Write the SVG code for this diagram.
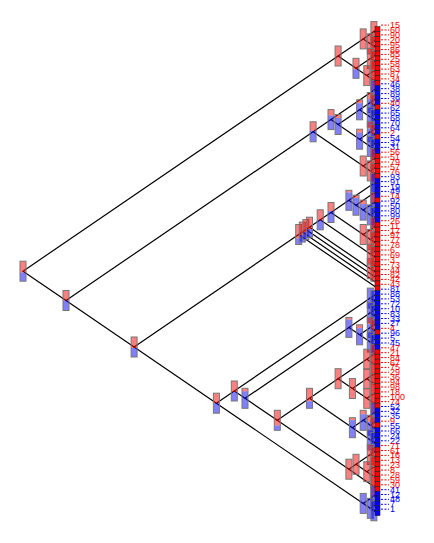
<svg xmlns="http://www.w3.org/2000/svg" width="434" height="543" viewBox="0 0 434 543">
<style>
.cn path{fill:none;stroke:#000;stroke-width:1.2}
.R{fill:rgba(255,0,0,.5);stroke:#777;stroke-width:1}
.B{fill:rgba(0,0,255,.5);stroke:#777;stroke-width:1}
.r{fill:rgba(255,0,0,.5)}
.b{fill:rgba(0,0,255,.5)}
.o{fill:none;stroke:#777;stroke-width:1}
.lf rect{stroke:#222;stroke-width:.6}
.lf line{stroke-width:1;stroke-dasharray:2 1.5}
.lf text{font-family:"Liberation Sans",Arial,sans-serif;font-size:9px}
.lr rect{fill:#f00}.lr line{stroke:#f00}.lr text{fill:#f00}
.lb rect{fill:#00f}.lb line{stroke:#00f}.lb text{fill:#00f}
</style>
<rect width="434" height="543" fill="#fff"/>
<g id="connectors" class="cn">
<path d="M338.1 56L23 271.2L66 300.5"/>
<path d="M363.2 38.9L338.1 56L356 68.3"/>
<path d="M373.9 31.6L363.2 38.9L370.3 43.8"/>
<path d="M377.5 29.1L373.9 31.6L377.5 34"/>
<path d="M377.5 38.9L370.3 43.8L373.9 46.3"/>
<path d="M377.5 43.8L373.9 46.3L377.5 48.7"/>
<path d="M370.3 58.4L356 68.3L366.8 75.6"/>
<path d="M377.5 53.6L370.3 58.4L373.9 60.9"/>
<path d="M377.5 58.4L373.9 60.9L377.5 63.3"/>
<path d="M373.9 70.7L366.8 75.6L373.9 80.5"/>
<path d="M377.5 68.2L373.9 70.7L377.5 73.1"/>
<path d="M377.5 78L373.9 80.5L377.5 82.9"/>
<path d="M313.1 131.8L66 300.5L134.1 347"/>
<path d="M331 119.6L313.1 131.8L363.2 166"/>
<path d="M373.9 90.3L331 119.6L338.1 124.5"/>
<path d="M377.5 87.8L373.9 90.3L377.5 92.7"/>
<path d="M359.6 109.8L338.1 124.5L359.6 139.2"/>
<path d="M370.3 102.5L359.6 109.8L370.3 117.1"/>
<path d="M377.5 97.6L370.3 102.5L373.9 104.9"/>
<path d="M377.5 102.5L373.9 104.9L377.5 107.3"/>
<path d="M377.5 112.2L370.3 117.1L373.9 119.6"/>
<path d="M377.5 117.1L373.9 119.6L377.5 122"/>
<path d="M370.3 131.8L359.6 139.2L370.3 146.5"/>
<path d="M377.5 126.9L370.3 131.8L373.9 134.3"/>
<path d="M377.5 131.8L373.9 134.3L377.5 136.7"/>
<path d="M377.5 141.6L370.3 146.5L373.9 149"/>
<path d="M377.5 146.5L373.9 149L377.5 151.4"/>
<path d="M373.9 158.7L363.2 166L370.3 170.9"/>
<path d="M377.5 156.2L373.9 158.7L377.5 161.1"/>
<path d="M377.5 166L370.3 170.9L373.9 173.4"/>
<path d="M377.5 170.9L373.9 173.4L377.5 175.8"/>
<path d="M298.7 234.5L134.1 347L216.4 403.2"/>
<path d="M302.3 232.1L298.7 234.5L377.5 288.3"/>
<path d="M305.9 229.6L302.3 232.1L377.5 283.4"/>
<path d="M309.5 227.2L305.9 229.6L377.5 278.5"/>
<path d="M320.2 219.8L309.5 227.2L370.3 268.7"/>
<path d="M377.5 263.8L370.3 268.7L373.9 271.2"/>
<path d="M377.5 268.7L373.9 271.2L377.5 273.6"/>
<path d="M331 212.5L320.2 219.8L370.3 254.1"/>
<path d="M348.9 200.3L331 212.5L363.2 234.5"/>
<path d="M373.9 183.2L348.9 200.3L356 205.2"/>
<path d="M377.5 180.7L373.9 183.2L377.5 185.6"/>
<path d="M373.9 193L356 205.2L363.2 210.1"/>
<path d="M377.5 190.5L373.9 193L377.5 195.4"/>
<path d="M373.9 202.7L363.2 210.1L370.3 214.9"/>
<path d="M377.5 200.3L373.9 202.7L377.5 205.1"/>
<path d="M377.5 210L370.3 214.9L373.9 217.4"/>
<path d="M377.5 214.9L373.9 217.4L377.5 219.8"/>
<path d="M373.9 227.2L363.2 234.5L370.3 239.4"/>
<path d="M377.5 224.7L373.9 227.2L377.5 229.6"/>
<path d="M377.5 234.5L370.3 239.4L373.9 241.9"/>
<path d="M377.5 239.4L373.9 241.9L377.5 244.3"/>
<path d="M377.5 249.2L370.3 254.1L373.9 256.5"/>
<path d="M377.5 254L373.9 256.5L377.5 258.9"/>
<path d="M234.3 391L216.4 403.2L363.2 503.4"/>
<path d="M370.3 298.1L234.3 391L245 398.3"/>
<path d="M377.5 293.2L370.3 298.1L373.9 300.5"/>
<path d="M377.5 298.1L373.9 300.5L377.5 302.9"/>
<path d="M348.9 327.4L245 398.3L277.3 420.3"/>
<path d="M370.3 312.7L348.9 327.4L359.6 334.8"/>
<path d="M377.5 307.8L370.3 312.7L373.9 315.2"/>
<path d="M377.5 312.7L373.9 315.2L377.5 317.6"/>
<path d="M370.3 327.4L359.6 334.8L370.3 342.1"/>
<path d="M377.5 322.5L370.3 327.4L373.9 329.9"/>
<path d="M377.5 327.4L373.9 329.9L377.5 332.3"/>
<path d="M377.5 337.2L370.3 342.1L373.9 344.6"/>
<path d="M377.5 342.1L373.9 344.6L377.5 347"/>
<path d="M309.5 398.3L277.3 420.3L348.9 469.2"/>
<path d="M338.1 378.7L309.5 398.3L352.4 427.7"/>
<path d="M366.8 359.2L338.1 378.7L352.4 388.5"/>
<path d="M373.9 354.3L366.8 359.2L373.9 364.1"/>
<path d="M377.5 351.8L373.9 354.3L377.5 356.7"/>
<path d="M377.5 361.6L373.9 364.1L377.5 366.5"/>
<path d="M366.8 378.8L352.4 388.5L366.8 398.3"/>
<path d="M373.9 373.9L366.8 378.8L373.9 383.7"/>
<path d="M377.5 371.4L373.9 373.9L377.5 376.3"/>
<path d="M377.5 381.2L373.9 383.7L377.5 386.1"/>
<path d="M373.9 393.5L366.8 398.3L373.9 403.2"/>
<path d="M377.5 391L373.9 393.5L377.5 395.9"/>
<path d="M377.5 400.7L373.9 403.2L377.5 405.6"/>
<path d="M363.2 420.3L352.4 427.7L370.3 439.9"/>
<path d="M373.9 413L363.2 420.3L370.3 425.2"/>
<path d="M377.5 410.5L373.9 413L377.5 415.4"/>
<path d="M377.5 420.3L370.3 425.2L373.9 427.7"/>
<path d="M377.5 425.2L373.9 427.7L377.5 430.1"/>
<path d="M377.5 435L370.3 439.9L373.9 442.4"/>
<path d="M377.5 439.9L373.9 442.4L377.5 444.8"/>
<path d="M356 464.3L348.9 469.2L373.9 486.4"/>
<path d="M370.3 454.5L356 464.3L366.8 471.7"/>
<path d="M377.5 449.6L370.3 454.5L373.9 457"/>
<path d="M377.5 454.5L373.9 457L377.5 459.4"/>
<path d="M373.9 466.8L366.8 471.7L373.9 476.6"/>
<path d="M377.5 464.3L373.9 466.8L377.5 469.2"/>
<path d="M377.5 474.1L373.9 476.6L377.5 479"/>
<path d="M377.5 483.9L373.9 486.4L377.5 488.8"/>
<path d="M373.9 496.1L363.2 503.4L370.3 508.3"/>
<path d="M377.5 493.7L373.9 496.1L377.5 498.5"/>
<path d="M377.5 503.4L370.3 508.3L373.9 510.8"/>
<path d="M377.5 508.3L373.9 510.8L377.5 513.2"/>
</g>
<g id="nodes">
<g id="nR" transform="translate(23 271.2)"><rect class="r" x="-3" y="-10" width="6" height="11.4"/><rect class="b" x="-3" y="1.4" width="6" height="8.6"/><rect class="o" x="-3" y="-10" width="6" height="20"/></g>
<g id="nA" transform="translate(338.1 56)"><rect class="R" x="-3" y="-10" width="6" height="20"/></g>
<g id="nA1" transform="translate(363.2 38.9)"><rect class="R" x="-3" y="-10" width="6" height="20"/></g>
<g id="na1" transform="translate(373.9 31.6)"><rect class="R" x="-3" y="-10" width="6" height="20"/></g>
<g id="na2" transform="translate(370.3 43.8)"><rect class="R" x="-3" y="-10" width="6" height="20"/></g>
<g id="na3" transform="translate(373.9 46.3)"><rect class="R" x="-3" y="-10" width="6" height="20"/></g>
<g id="nA2" transform="translate(356 68.3)"><rect class="r" x="-3" y="-10" width="6" height="11"/><rect class="b" x="-3" y="1" width="6" height="9"/><rect class="o" x="-3" y="-10" width="6" height="20"/></g>
<g id="na4" transform="translate(370.3 58.4)"><rect class="R" x="-3" y="-10" width="6" height="20"/></g>
<g id="na6" transform="translate(373.9 60.9)"><rect class="R" x="-3" y="-10" width="6" height="20"/></g>
<g id="na5" transform="translate(366.8 75.6)"><rect class="R" x="-3" y="-10" width="6" height="20"/></g>
<g id="na7" transform="translate(373.9 70.7)"><rect class="R" x="-3" y="-10" width="6" height="20"/></g>
<g id="na8" transform="translate(373.9 80.5)"><rect class="R" x="-3" y="-10" width="6" height="20"/></g>
<g id="nB" transform="translate(66 300.5)"><rect class="r" x="-3" y="-10" width="6" height="10"/><rect class="b" x="-3" y="0" width="6" height="10"/><rect class="o" x="-3" y="-10" width="6" height="20"/></g>
<g id="nB1" transform="translate(313.1 131.8)"><rect class="r" x="-3" y="-10" width="6" height="9"/><rect class="b" x="-3" y="-1" width="6" height="11"/><rect class="o" x="-3" y="-10" width="6" height="20"/></g>
<g id="nB1a" transform="translate(331 119.6)"><rect class="r" x="-3" y="-10" width="6" height="6"/><rect class="b" x="-3" y="-4" width="6" height="14"/><rect class="o" x="-3" y="-10" width="6" height="20"/></g>
<g id="nb1" transform="translate(373.9 90.3)"><rect class="B" x="-3" y="-10" width="6" height="20"/></g>
<g id="nb2" transform="translate(338.1 124.5)"><rect class="r" x="-3" y="-10" width="6" height="3.4"/><rect class="b" x="-3" y="-6.6" width="6" height="16.6"/><rect class="o" x="-3" y="-10" width="6" height="20"/></g>
<g id="nb3" transform="translate(359.6 109.8)"><rect class="r" x="-3" y="-10" width="6" height="3.4"/><rect class="b" x="-3" y="-6.6" width="6" height="16.6"/><rect class="o" x="-3" y="-10" width="6" height="20"/></g>
<g id="nb5" transform="translate(370.3 102.5)"><rect class="r" x="-3" y="-10" width="6" height="6.7"/><rect class="b" x="-3" y="-3.3" width="6" height="13.3"/><rect class="o" x="-3" y="-10" width="6" height="20"/></g>
<g id="nb7" transform="translate(373.9 104.9)"><rect class="r" x="-3" y="-10" width="6" height="10"/><rect class="b" x="-3" y="0" width="6" height="10"/><rect class="o" x="-3" y="-10" width="6" height="20"/></g>
<g id="nb6" transform="translate(370.3 117.1)"><rect class="B" x="-3" y="-10" width="6" height="20"/></g>
<g id="nb8" transform="translate(373.9 119.6)"><rect class="B" x="-3" y="-10" width="6" height="20"/></g>
<g id="nb4" transform="translate(359.6 139.2)"><rect class="r" x="-3" y="-10" width="6" height="3.4"/><rect class="b" x="-3" y="-6.6" width="6" height="16.6"/><rect class="o" x="-3" y="-10" width="6" height="20"/></g>
<g id="nb9" transform="translate(370.3 131.8)"><rect class="r" x="-3" y="-10" width="6" height="6.7"/><rect class="b" x="-3" y="-3.3" width="6" height="13.3"/><rect class="o" x="-3" y="-10" width="6" height="20"/></g>
<g id="nb11" transform="translate(373.9 134.3)"><rect class="r" x="-3" y="-10" width="6" height="10"/><rect class="b" x="-3" y="0" width="6" height="10"/><rect class="o" x="-3" y="-10" width="6" height="20"/></g>
<g id="nb10" transform="translate(370.3 146.5)"><rect class="B" x="-3" y="-10" width="6" height="20"/></g>
<g id="nb12" transform="translate(373.9 149)"><rect class="B" x="-3" y="-10" width="6" height="20"/></g>
<g id="nB1b" transform="translate(363.2 166)"><rect class="R" x="-3" y="-10" width="6" height="20"/></g>
<g id="nb13" transform="translate(373.9 158.7)"><rect class="R" x="-3" y="-10" width="6" height="20"/></g>
<g id="nb14" transform="translate(370.3 170.9)"><rect class="R" x="-3" y="-10" width="6" height="20"/></g>
<g id="nb15" transform="translate(373.9 173.4)"><rect class="R" x="-3" y="-10" width="6" height="20"/></g>
<g id="nB2" transform="translate(134.1 347)"><rect class="r" x="-3" y="-10" width="6" height="11"/><rect class="b" x="-3" y="1" width="6" height="9"/><rect class="o" x="-3" y="-10" width="6" height="20"/></g>
<g id="nC" transform="translate(298.7 234.5)"><rect class="r" x="-3" y="-10" width="6" height="14"/><rect class="b" x="-3" y="4" width="6" height="6"/><rect class="o" x="-3" y="-10" width="6" height="20"/></g>
<g id="nC1" transform="translate(302.3 232.1)"><rect class="r" x="-3" y="-10" width="6" height="12.8"/><rect class="b" x="-3" y="2.8" width="6" height="7.2"/><rect class="o" x="-3" y="-10" width="6" height="20"/></g>
<g id="nC2" transform="translate(305.9 229.6)"><rect class="r" x="-3" y="-10" width="6" height="12.4"/><rect class="b" x="-3" y="2.4" width="6" height="7.6"/><rect class="o" x="-3" y="-10" width="6" height="20"/></g>
<g id="nC3" transform="translate(309.5 227.2)"><rect class="r" x="-3" y="-10" width="6" height="12"/><rect class="b" x="-3" y="2" width="6" height="8"/><rect class="o" x="-3" y="-10" width="6" height="20"/></g>
<g id="nc19" transform="translate(370.3 268.7)"><rect class="R" x="-3" y="-10" width="6" height="20"/></g>
<g id="nc20" transform="translate(373.9 271.2)"><rect class="R" x="-3" y="-10" width="6" height="20"/></g>
<g id="nC6" transform="translate(320.2 219.8)"><rect class="r" x="-3" y="-10" width="6" height="10.6"/><rect class="b" x="-3" y="0.6" width="6" height="9.4"/><rect class="o" x="-3" y="-10" width="6" height="20"/></g>
<g id="nC7" transform="translate(331 212.5)"><rect class="r" x="-3" y="-10" width="6" height="8.6"/><rect class="b" x="-3" y="-1.4" width="6" height="11.4"/><rect class="o" x="-3" y="-10" width="6" height="20"/></g>
<g id="nC8" transform="translate(348.9 200.3)"><rect class="r" x="-3" y="-10" width="6" height="2.2"/><rect class="b" x="-3" y="-7.8" width="6" height="17.8"/><rect class="o" x="-3" y="-10" width="6" height="20"/></g>
<g id="nc10" transform="translate(373.9 183.2)"><rect class="B" x="-3" y="-10" width="6" height="20"/></g>
<g id="nC10" transform="translate(356 205.2)"><rect class="r" x="-3" y="-10" width="6" height="2.8"/><rect class="b" x="-3" y="-7.2" width="6" height="17.2"/><rect class="o" x="-3" y="-10" width="6" height="20"/></g>
<g id="nc11" transform="translate(373.9 193)"><rect class="B" x="-3" y="-10" width="6" height="20"/></g>
<g id="nC11" transform="translate(363.2 210.1)"><rect class="r" x="-3" y="-10" width="6" height="4"/><rect class="b" x="-3" y="-6" width="6" height="16"/><rect class="o" x="-3" y="-10" width="6" height="20"/></g>
<g id="nc12" transform="translate(373.9 202.7)"><rect class="r" x="-3" y="-10" width="6" height="10"/><rect class="b" x="-3" y="0" width="6" height="10"/><rect class="o" x="-3" y="-10" width="6" height="20"/></g>
<g id="nc13" transform="translate(370.3 214.9)"><rect class="B" x="-3" y="-10" width="6" height="20"/></g>
<g id="nc14" transform="translate(373.9 217.4)"><rect class="B" x="-3" y="-10" width="6" height="20"/></g>
<g id="nc9" transform="translate(363.2 234.5)"><rect class="R" x="-3" y="-10" width="6" height="20"/></g>
<g id="nc15" transform="translate(373.9 227.2)"><rect class="R" x="-3" y="-10" width="6" height="20"/></g>
<g id="nc16" transform="translate(370.3 239.4)"><rect class="R" x="-3" y="-10" width="6" height="20"/></g>
<g id="nc17" transform="translate(373.9 241.9)"><rect class="R" x="-3" y="-10" width="6" height="20"/></g>
<g id="nc8" transform="translate(370.3 254.1)"><rect class="R" x="-3" y="-10" width="6" height="20"/></g>
<g id="nc18" transform="translate(373.9 256.5)"><rect class="R" x="-3" y="-10" width="6" height="20"/></g>
<g id="nD" transform="translate(216.4 403.2)"><rect class="r" x="-3" y="-10" width="6" height="10"/><rect class="b" x="-3" y="0" width="6" height="10"/><rect class="o" x="-3" y="-10" width="6" height="20"/></g>
<g id="nD1" transform="translate(234.3 391)"><rect class="r" x="-3" y="-10" width="6" height="11.2"/><rect class="b" x="-3" y="1.2" width="6" height="8.8"/><rect class="o" x="-3" y="-10" width="6" height="20"/></g>
<g id="nD3" transform="translate(370.3 298.1)"><rect class="B" x="-3" y="-10" width="6" height="20"/></g>
<g id="nd1" transform="translate(373.9 300.5)"><rect class="B" x="-3" y="-10" width="6" height="20"/></g>
<g id="nD4" transform="translate(245 398.3)"><rect class="r" x="-3" y="-10" width="6" height="3"/><rect class="b" x="-3" y="-7" width="6" height="17"/><rect class="o" x="-3" y="-10" width="6" height="20"/></g>
<g id="nD5" transform="translate(348.9 327.4)"><rect class="r" x="-3" y="-10" width="6" height="2.2"/><rect class="b" x="-3" y="-7.8" width="6" height="17.8"/><rect class="o" x="-3" y="-10" width="6" height="20"/></g>
<g id="nd2" transform="translate(370.3 312.7)"><rect class="B" x="-3" y="-10" width="6" height="20"/></g>
<g id="nd3" transform="translate(373.9 315.2)"><rect class="B" x="-3" y="-10" width="6" height="20"/></g>
<g id="nD7" transform="translate(359.6 334.8)"><rect class="r" x="-3" y="-10" width="6" height="3.4"/><rect class="b" x="-3" y="-6.6" width="6" height="16.6"/><rect class="o" x="-3" y="-10" width="6" height="20"/></g>
<g id="nd4" transform="translate(370.3 327.4)"><rect class="r" x="-3" y="-10" width="6" height="6.7"/><rect class="b" x="-3" y="-3.3" width="6" height="13.3"/><rect class="o" x="-3" y="-10" width="6" height="20"/></g>
<g id="nd6" transform="translate(373.9 329.9)"><rect class="r" x="-3" y="-10" width="6" height="10"/><rect class="b" x="-3" y="0" width="6" height="10"/><rect class="o" x="-3" y="-10" width="6" height="20"/></g>
<g id="nd5" transform="translate(370.3 342.1)"><rect class="B" x="-3" y="-10" width="6" height="20"/></g>
<g id="nd7" transform="translate(373.9 344.6)"><rect class="B" x="-3" y="-10" width="6" height="20"/></g>
<g id="nD6" transform="translate(277.3 420.3)"><rect class="r" x="-3" y="-10" width="6" height="15.2"/><rect class="b" x="-3" y="5.2" width="6" height="4.8"/><rect class="o" x="-3" y="-10" width="6" height="20"/></g>
<g id="nD8" transform="translate(309.5 398.3)"><rect class="r" x="-3" y="-10" width="6" height="13"/><rect class="b" x="-3" y="3" width="6" height="7"/><rect class="o" x="-3" y="-10" width="6" height="20"/></g>
<g id="nD10" transform="translate(338.1 378.7)"><rect class="R" x="-3" y="-10" width="6" height="20"/></g>
<g id="nd8" transform="translate(366.8 359.2)"><rect class="R" x="-3" y="-10" width="6" height="20"/></g>
<g id="nd9" transform="translate(373.9 354.3)"><rect class="R" x="-3" y="-10" width="6" height="20"/></g>
<g id="nd10" transform="translate(373.9 364.1)"><rect class="R" x="-3" y="-10" width="6" height="20"/></g>
<g id="nD12" transform="translate(352.4 388.5)"><rect class="R" x="-3" y="-10" width="6" height="20"/></g>
<g id="nd11" transform="translate(366.8 378.8)"><rect class="R" x="-3" y="-10" width="6" height="20"/></g>
<g id="nd13" transform="translate(373.9 373.9)"><rect class="R" x="-3" y="-10" width="6" height="20"/></g>
<g id="nd14" transform="translate(373.9 383.7)"><rect class="R" x="-3" y="-10" width="6" height="20"/></g>
<g id="nd12" transform="translate(366.8 398.3)"><rect class="R" x="-3" y="-10" width="6" height="20"/></g>
<g id="nd15" transform="translate(373.9 393.5)"><rect class="R" x="-3" y="-10" width="6" height="20"/></g>
<g id="nd16" transform="translate(373.9 403.2)"><rect class="R" x="-3" y="-10" width="6" height="20"/></g>
<g id="nD11" transform="translate(352.4 427.7)"><rect class="r" x="-3" y="-10" width="6" height="2.5"/><rect class="b" x="-3" y="-7.5" width="6" height="17.5"/><rect class="o" x="-3" y="-10" width="6" height="20"/></g>
<g id="nD13" transform="translate(363.2 420.3)"><rect class="r" x="-3" y="-10" width="6" height="4"/><rect class="b" x="-3" y="-6" width="6" height="16"/><rect class="o" x="-3" y="-10" width="6" height="20"/></g>
<g id="nd18" transform="translate(373.9 413)"><rect class="B" x="-3" y="-10" width="6" height="20"/></g>
<g id="nd19" transform="translate(370.3 425.2)"><rect class="r" x="-3" y="-10" width="6" height="6.7"/><rect class="b" x="-3" y="-3.3" width="6" height="13.3"/><rect class="o" x="-3" y="-10" width="6" height="20"/></g>
<g id="nd20" transform="translate(373.9 427.7)"><rect class="r" x="-3" y="-10" width="6" height="10"/><rect class="b" x="-3" y="0" width="6" height="10"/><rect class="o" x="-3" y="-10" width="6" height="20"/></g>
<g id="nd17" transform="translate(370.3 439.9)"><rect class="B" x="-3" y="-10" width="6" height="20"/></g>
<g id="nd21" transform="translate(373.9 442.4)"><rect class="B" x="-3" y="-10" width="6" height="20"/></g>
<g id="nD9" transform="translate(348.9 469.2)"><rect class="R" x="-3" y="-10" width="6" height="20"/></g>
<g id="nD14" transform="translate(356 464.3)"><rect class="R" x="-3" y="-10" width="6" height="20"/></g>
<g id="nd23" transform="translate(370.3 454.5)"><rect class="R" x="-3" y="-10" width="6" height="20"/></g>
<g id="nd25" transform="translate(373.9 457)"><rect class="R" x="-3" y="-10" width="6" height="20"/></g>
<g id="nd24" transform="translate(366.8 471.7)"><rect class="R" x="-3" y="-10" width="6" height="20"/></g>
<g id="nd26" transform="translate(373.9 466.8)"><rect class="R" x="-3" y="-10" width="6" height="20"/></g>
<g id="nd27" transform="translate(373.9 476.6)"><rect class="R" x="-3" y="-10" width="6" height="20"/></g>
<g id="nd22" transform="translate(373.9 486.4)"><rect class="R" x="-3" y="-10" width="6" height="20"/></g>
<g id="nD2" transform="translate(363.2 503.4)"><rect class="B" x="-3" y="-10" width="6" height="20"/></g>
<g id="nd28" transform="translate(373.9 496.1)"><rect class="B" x="-3" y="-10" width="6" height="20"/></g>
<g id="nd29" transform="translate(370.3 508.3)"><rect class="B" x="-3" y="-10" width="6" height="20"/></g>
<g id="nd30" transform="translate(373.9 510.8)"><rect class="B" x="-3" y="-10" width="6" height="20"/></g>
</g>
<g id="leaves">
<g id="leaf15" class="lf lr" transform="translate(0 29.1)"><rect x="375" y="-2.45" width="5" height="4.9"/><line x1="381" y1="-4" x2="389" y2="-4"/><text x="390" y="-1">15</text></g>
<g id="leaf60" class="lf lr" transform="translate(0 34)"><rect x="375" y="-2.45" width="5" height="4.9"/><line x1="381" y1="-4" x2="389" y2="-4"/><text x="390" y="-1">60</text></g>
<g id="leaf90" class="lf lr" transform="translate(0 38.9)"><rect x="375" y="-2.45" width="5" height="4.9"/><line x1="381" y1="-4" x2="389" y2="-4"/><text x="390" y="-1">90</text></g>
<g id="leaf20" class="lf lr" transform="translate(0 43.8)"><rect x="375" y="-2.45" width="5" height="4.9"/><line x1="381" y1="-4" x2="389" y2="-4"/><text x="390" y="-1">20</text></g>
<g id="leaf95" class="lf lr" transform="translate(0 48.7)"><rect x="375" y="-2.45" width="5" height="4.9"/><line x1="381" y1="-4" x2="389" y2="-4"/><text x="390" y="-1">95</text></g>
<g id="leaf86" class="lf lr" transform="translate(0 53.6)"><rect x="375" y="-2.45" width="5" height="4.9"/><line x1="381" y1="-4" x2="389" y2="-4"/><text x="390" y="-1">86</text></g>
<g id="leaf85" class="lf lr" transform="translate(0 58.4)"><rect x="375" y="-2.45" width="5" height="4.9"/><line x1="381" y1="-4" x2="389" y2="-4"/><text x="390" y="-1">85</text></g>
<g id="leaf25" class="lf lr" transform="translate(0 63.3)"><rect x="375" y="-2.45" width="5" height="4.9"/><line x1="381" y1="-4" x2="389" y2="-4"/><text x="390" y="-1">25</text></g>
<g id="leaf58" class="lf lr" transform="translate(0 68.2)"><rect x="375" y="-2.45" width="5" height="4.9"/><line x1="381" y1="-4" x2="389" y2="-4"/><text x="390" y="-1">58</text></g>
<g id="leaf63" class="lf lr" transform="translate(0 73.1)"><rect x="375" y="-2.45" width="5" height="4.9"/><line x1="381" y1="-4" x2="389" y2="-4"/><text x="390" y="-1">63</text></g>
<g id="leaf87" class="lf lr" transform="translate(0 78)"><rect x="375" y="-2.45" width="5" height="4.9"/><line x1="381" y1="-4" x2="389" y2="-4"/><text x="390" y="-1">87</text></g>
<g id="leaf34" class="lf lr" transform="translate(0 82.9)"><rect x="375" y="-2.45" width="5" height="4.9"/><line x1="381" y1="-4" x2="389" y2="-4"/><text x="390" y="-1">34</text></g>
<g id="leaf46" class="lf lb" transform="translate(0 87.8)"><rect x="375" y="-2.45" width="5" height="4.9"/><line x1="381" y1="-4" x2="389" y2="-4"/><text x="390" y="-1">46</text></g>
<g id="leaf38" class="lf lb" transform="translate(0 92.7)"><rect x="375" y="-2.45" width="5" height="4.9"/><line x1="381" y1="-4" x2="389" y2="-4"/><text x="390" y="-1">38</text></g>
<g id="leaf89" class="lf lb" transform="translate(0 97.6)"><rect x="375" y="-2.45" width="5" height="4.9"/><line x1="381" y1="-4" x2="389" y2="-4"/><text x="390" y="-1">89</text></g>
<g id="leaf39" class="lf lb" transform="translate(0 102.5)"><rect x="375" y="-2.45" width="5" height="4.9"/><line x1="381" y1="-4" x2="389" y2="-4"/><text x="390" y="-1">39</text></g>
<g id="leaf40" class="lf lr" transform="translate(0 107.3)"><rect x="375" y="-2.45" width="5" height="4.9"/><line x1="381" y1="-4" x2="389" y2="-4"/><text x="390" y="-1">40</text></g>
<g id="leaf62" class="lf lb" transform="translate(0 112.2)"><rect x="375" y="-2.45" width="5" height="4.9"/><line x1="381" y1="-4" x2="389" y2="-4"/><text x="390" y="-1">62</text></g>
<g id="leaf65" class="lf lb" transform="translate(0 117.1)"><rect x="375" y="-2.45" width="5" height="4.9"/><line x1="381" y1="-4" x2="389" y2="-4"/><text x="390" y="-1">65</text></g>
<g id="leaf68" class="lf lb" transform="translate(0 122)"><rect x="375" y="-2.45" width="5" height="4.9"/><line x1="381" y1="-4" x2="389" y2="-4"/><text x="390" y="-1">68</text></g>
<g id="leaf70" class="lf lb" transform="translate(0 126.9)"><rect x="375" y="-2.45" width="5" height="4.9"/><line x1="381" y1="-4" x2="389" y2="-4"/><text x="390" y="-1">70</text></g>
<g id="leaf64" class="lf lb" transform="translate(0 131.8)"><rect x="375" y="-2.45" width="5" height="4.9"/><line x1="381" y1="-4" x2="389" y2="-4"/><text x="390" y="-1">64</text></g>
<g id="leaf2" class="lf lr" transform="translate(0 136.7)"><rect x="375" y="-2.45" width="5" height="4.9"/><line x1="381" y1="-4" x2="389" y2="-4"/><text x="390" y="-1">2</text></g>
<g id="leaf54" class="lf lb" transform="translate(0 141.6)"><rect x="375" y="-2.45" width="5" height="4.9"/><line x1="381" y1="-4" x2="389" y2="-4"/><text x="390" y="-1">54</text></g>
<g id="leaf37" class="lf lb" transform="translate(0 146.5)"><rect x="375" y="-2.45" width="5" height="4.9"/><line x1="381" y1="-4" x2="389" y2="-4"/><text x="390" y="-1">37</text></g>
<g id="leaf31" class="lf lb" transform="translate(0 151.4)"><rect x="375" y="-2.45" width="5" height="4.9"/><line x1="381" y1="-4" x2="389" y2="-4"/><text x="390" y="-1">31</text></g>
<g id="leaf56" class="lf lr" transform="translate(0 156.2)"><rect x="375" y="-2.45" width="5" height="4.9"/><line x1="381" y1="-4" x2="389" y2="-4"/><text x="390" y="-1">56</text></g>
<g id="leaf51" class="lf lr" transform="translate(0 161.1)"><rect x="375" y="-2.45" width="5" height="4.9"/><line x1="381" y1="-4" x2="389" y2="-4"/><text x="390" y="-1">51</text></g>
<g id="leaf79" class="lf lr" transform="translate(0 166)"><rect x="375" y="-2.45" width="5" height="4.9"/><line x1="381" y1="-4" x2="389" y2="-4"/><text x="390" y="-1">79</text></g>
<g id="leaf57" class="lf lr" transform="translate(0 170.9)"><rect x="375" y="-2.45" width="5" height="4.9"/><line x1="381" y1="-4" x2="389" y2="-4"/><text x="390" y="-1">57</text></g>
<g id="leaf76" class="lf lr" transform="translate(0 175.8)"><rect x="375" y="-2.45" width="5" height="4.9"/><line x1="381" y1="-4" x2="389" y2="-4"/><text x="390" y="-1">76</text></g>
<g id="leaf93" class="lf lb" transform="translate(0 180.7)"><rect x="375" y="-2.45" width="5" height="4.9"/><line x1="381" y1="-4" x2="389" y2="-4"/><text x="390" y="-1">93</text></g>
<g id="leaf91" class="lf lb" transform="translate(0 185.6)"><rect x="375" y="-2.45" width="5" height="4.9"/><line x1="381" y1="-4" x2="389" y2="-4"/><text x="390" y="-1">91</text></g>
<g id="leaf19" class="lf lb" transform="translate(0 190.5)"><rect x="375" y="-2.45" width="5" height="4.9"/><line x1="381" y1="-4" x2="389" y2="-4"/><text x="390" y="-1">19</text></g>
<g id="leaf49" class="lf lb" transform="translate(0 195.4)"><rect x="375" y="-2.45" width="5" height="4.9"/><line x1="381" y1="-4" x2="389" y2="-4"/><text x="390" y="-1">49</text></g>
<g id="leaf14" class="lf lr" transform="translate(0 200.3)"><rect x="375" y="-2.45" width="5" height="4.9"/><line x1="381" y1="-4" x2="389" y2="-4"/><text x="390" y="-1">14</text></g>
<g id="leaf92" class="lf lb" transform="translate(0 205.1)"><rect x="375" y="-2.45" width="5" height="4.9"/><line x1="381" y1="-4" x2="389" y2="-4"/><text x="390" y="-1">92</text></g>
<g id="leaf50" class="lf lb" transform="translate(0 210)"><rect x="375" y="-2.45" width="5" height="4.9"/><line x1="381" y1="-4" x2="389" y2="-4"/><text x="390" y="-1">50</text></g>
<g id="leaf80" class="lf lb" transform="translate(0 214.9)"><rect x="375" y="-2.45" width="5" height="4.9"/><line x1="381" y1="-4" x2="389" y2="-4"/><text x="390" y="-1">80</text></g>
<g id="leaf99" class="lf lb" transform="translate(0 219.8)"><rect x="375" y="-2.45" width="5" height="4.9"/><line x1="381" y1="-4" x2="389" y2="-4"/><text x="390" y="-1">99</text></g>
<g id="leaf26" class="lf lr" transform="translate(0 224.7)"><rect x="375" y="-2.45" width="5" height="4.9"/><line x1="381" y1="-4" x2="389" y2="-4"/><text x="390" y="-1">26</text></g>
<g id="leaf11" class="lf lr" transform="translate(0 229.6)"><rect x="375" y="-2.45" width="5" height="4.9"/><line x1="381" y1="-4" x2="389" y2="-4"/><text x="390" y="-1">11</text></g>
<g id="leaf17" class="lf lr" transform="translate(0 234.5)"><rect x="375" y="-2.45" width="5" height="4.9"/><line x1="381" y1="-4" x2="389" y2="-4"/><text x="390" y="-1">17</text></g>
<g id="leaf97" class="lf lr" transform="translate(0 239.4)"><rect x="375" y="-2.45" width="5" height="4.9"/><line x1="381" y1="-4" x2="389" y2="-4"/><text x="390" y="-1">97</text></g>
<g id="leaf77" class="lf lr" transform="translate(0 244.3)"><rect x="375" y="-2.45" width="5" height="4.9"/><line x1="381" y1="-4" x2="389" y2="-4"/><text x="390" y="-1">77</text></g>
<g id="leaf78" class="lf lr" transform="translate(0 249.2)"><rect x="375" y="-2.45" width="5" height="4.9"/><line x1="381" y1="-4" x2="389" y2="-4"/><text x="390" y="-1">78</text></g>
<g id="leaf6" class="lf lr" transform="translate(0 254)"><rect x="375" y="-2.45" width="5" height="4.9"/><line x1="381" y1="-4" x2="389" y2="-4"/><text x="390" y="-1">6</text></g>
<g id="leaf69" class="lf lr" transform="translate(0 258.9)"><rect x="375" y="-2.45" width="5" height="4.9"/><line x1="381" y1="-4" x2="389" y2="-4"/><text x="390" y="-1">69</text></g>
<g id="leaf3" class="lf lr" transform="translate(0 263.8)"><rect x="375" y="-2.45" width="5" height="4.9"/><line x1="381" y1="-4" x2="389" y2="-4"/><text x="390" y="-1">3</text></g>
<g id="leaf73" class="lf lr" transform="translate(0 268.7)"><rect x="375" y="-2.45" width="5" height="4.9"/><line x1="381" y1="-4" x2="389" y2="-4"/><text x="390" y="-1">73</text></g>
<g id="leaf44" class="lf lr" transform="translate(0 273.6)"><rect x="375" y="-2.45" width="5" height="4.9"/><line x1="381" y1="-4" x2="389" y2="-4"/><text x="390" y="-1">44</text></g>
<g id="leaf82" class="lf lr" transform="translate(0 278.5)"><rect x="375" y="-2.45" width="5" height="4.9"/><line x1="381" y1="-4" x2="389" y2="-4"/><text x="390" y="-1">82</text></g>
<g id="leaf42" class="lf lr" transform="translate(0 283.4)"><rect x="375" y="-2.45" width="5" height="4.9"/><line x1="381" y1="-4" x2="389" y2="-4"/><text x="390" y="-1">42</text></g>
<g id="leaf43" class="lf lr" transform="translate(0 288.3)"><rect x="375" y="-2.45" width="5" height="4.9"/><line x1="381" y1="-4" x2="389" y2="-4"/><text x="390" y="-1">43</text></g>
<g id="leaf81" class="lf lb" transform="translate(0 293.2)"><rect x="375" y="-2.45" width="5" height="4.9"/><line x1="381" y1="-4" x2="389" y2="-4"/><text x="390" y="-1">81</text></g>
<g id="leaf88" class="lf lb" transform="translate(0 298.1)"><rect x="375" y="-2.45" width="5" height="4.9"/><line x1="381" y1="-4" x2="389" y2="-4"/><text x="390" y="-1">88</text></g>
<g id="leaf53" class="lf lb" transform="translate(0 302.9)"><rect x="375" y="-2.45" width="5" height="4.9"/><line x1="381" y1="-4" x2="389" y2="-4"/><text x="390" y="-1">53</text></g>
<g id="leaf72" class="lf lb" transform="translate(0 307.8)"><rect x="375" y="-2.45" width="5" height="4.9"/><line x1="381" y1="-4" x2="389" y2="-4"/><text x="390" y="-1">72</text></g>
<g id="leaf10" class="lf lb" transform="translate(0 312.7)"><rect x="375" y="-2.45" width="5" height="4.9"/><line x1="381" y1="-4" x2="389" y2="-4"/><text x="390" y="-1">10</text></g>
<g id="leaf83" class="lf lb" transform="translate(0 317.6)"><rect x="375" y="-2.45" width="5" height="4.9"/><line x1="381" y1="-4" x2="389" y2="-4"/><text x="390" y="-1">83</text></g>
<g id="leaf33" class="lf lb" transform="translate(0 322.5)"><rect x="375" y="-2.45" width="5" height="4.9"/><line x1="381" y1="-4" x2="389" y2="-4"/><text x="390" y="-1">33</text></g>
<g id="leaf27" class="lf lb" transform="translate(0 327.4)"><rect x="375" y="-2.45" width="5" height="4.9"/><line x1="381" y1="-4" x2="389" y2="-4"/><text x="390" y="-1">27</text></g>
<g id="leaf4" class="lf lr" transform="translate(0 332.3)"><rect x="375" y="-2.45" width="5" height="4.9"/><line x1="381" y1="-4" x2="389" y2="-4"/><text x="390" y="-1">4</text></g>
<g id="leaf96" class="lf lb" transform="translate(0 337.2)"><rect x="375" y="-2.45" width="5" height="4.9"/><line x1="381" y1="-4" x2="389" y2="-4"/><text x="390" y="-1">96</text></g>
<g id="leaf5" class="lf lb" transform="translate(0 342.1)"><rect x="375" y="-2.45" width="5" height="4.9"/><line x1="381" y1="-4" x2="389" y2="-4"/><text x="390" y="-1">5</text></g>
<g id="leaf45" class="lf lb" transform="translate(0 347)"><rect x="375" y="-2.45" width="5" height="4.9"/><line x1="381" y1="-4" x2="389" y2="-4"/><text x="390" y="-1">45</text></g>
<g id="leaf47" class="lf lr" transform="translate(0 351.8)"><rect x="375" y="-2.45" width="5" height="4.9"/><line x1="381" y1="-4" x2="389" y2="-4"/><text x="390" y="-1">47</text></g>
<g id="leaf21" class="lf lr" transform="translate(0 356.7)"><rect x="375" y="-2.45" width="5" height="4.9"/><line x1="381" y1="-4" x2="389" y2="-4"/><text x="390" y="-1">21</text></g>
<g id="leaf84" class="lf lr" transform="translate(0 361.6)"><rect x="375" y="-2.45" width="5" height="4.9"/><line x1="381" y1="-4" x2="389" y2="-4"/><text x="390" y="-1">84</text></g>
<g id="leaf67" class="lf lr" transform="translate(0 366.5)"><rect x="375" y="-2.45" width="5" height="4.9"/><line x1="381" y1="-4" x2="389" y2="-4"/><text x="390" y="-1">67</text></g>
<g id="leaf75" class="lf lr" transform="translate(0 371.4)"><rect x="375" y="-2.45" width="5" height="4.9"/><line x1="381" y1="-4" x2="389" y2="-4"/><text x="390" y="-1">75</text></g>
<g id="leaf29" class="lf lr" transform="translate(0 376.3)"><rect x="375" y="-2.45" width="5" height="4.9"/><line x1="381" y1="-4" x2="389" y2="-4"/><text x="390" y="-1">29</text></g>
<g id="leaf36" class="lf lr" transform="translate(0 381.2)"><rect x="375" y="-2.45" width="5" height="4.9"/><line x1="381" y1="-4" x2="389" y2="-4"/><text x="390" y="-1">36</text></g>
<g id="leaf94" class="lf lr" transform="translate(0 386.1)"><rect x="375" y="-2.45" width="5" height="4.9"/><line x1="381" y1="-4" x2="389" y2="-4"/><text x="390" y="-1">94</text></g>
<g id="leaf98" class="lf lr" transform="translate(0 391)"><rect x="375" y="-2.45" width="5" height="4.9"/><line x1="381" y1="-4" x2="389" y2="-4"/><text x="390" y="-1">98</text></g>
<g id="leaf18" class="lf lr" transform="translate(0 395.9)"><rect x="375" y="-2.45" width="5" height="4.9"/><line x1="381" y1="-4" x2="389" y2="-4"/><text x="390" y="-1">18</text></g>
<g id="leaf100" class="lf lr" transform="translate(0 400.7)"><rect x="375" y="-2.45" width="5" height="4.9"/><line x1="381" y1="-4" x2="389" y2="-4"/><text x="390" y="-1">100</text></g>
<g id="leaf74" class="lf lr" transform="translate(0 405.6)"><rect x="375" y="-2.45" width="5" height="4.9"/><line x1="381" y1="-4" x2="389" y2="-4"/><text x="390" y="-1">74</text></g>
<g id="leaf52" class="lf lb" transform="translate(0 410.5)"><rect x="375" y="-2.45" width="5" height="4.9"/><line x1="381" y1="-4" x2="389" y2="-4"/><text x="390" y="-1">52</text></g>
<g id="leaf32" class="lf lb" transform="translate(0 415.4)"><rect x="375" y="-2.45" width="5" height="4.9"/><line x1="381" y1="-4" x2="389" y2="-4"/><text x="390" y="-1">32</text></g>
<g id="leaf35" class="lf lb" transform="translate(0 420.3)"><rect x="375" y="-2.45" width="5" height="4.9"/><line x1="381" y1="-4" x2="389" y2="-4"/><text x="390" y="-1">35</text></g>
<g id="leaf9" class="lf lr" transform="translate(0 425.2)"><rect x="375" y="-2.45" width="5" height="4.9"/><line x1="381" y1="-4" x2="389" y2="-4"/><text x="390" y="-1">9</text></g>
<g id="leaf55" class="lf lb" transform="translate(0 430.1)"><rect x="375" y="-2.45" width="5" height="4.9"/><line x1="381" y1="-4" x2="389" y2="-4"/><text x="390" y="-1">55</text></g>
<g id="leaf66" class="lf lb" transform="translate(0 435)"><rect x="375" y="-2.45" width="5" height="4.9"/><line x1="381" y1="-4" x2="389" y2="-4"/><text x="390" y="-1">66</text></g>
<g id="leaf24" class="lf lb" transform="translate(0 439.9)"><rect x="375" y="-2.45" width="5" height="4.9"/><line x1="381" y1="-4" x2="389" y2="-4"/><text x="390" y="-1">24</text></g>
<g id="leaf22" class="lf lb" transform="translate(0 444.8)"><rect x="375" y="-2.45" width="5" height="4.9"/><line x1="381" y1="-4" x2="389" y2="-4"/><text x="390" y="-1">22</text></g>
<g id="leaf71" class="lf lr" transform="translate(0 449.6)"><rect x="375" y="-2.45" width="5" height="4.9"/><line x1="381" y1="-4" x2="389" y2="-4"/><text x="390" y="-1">71</text></g>
<g id="leaf61" class="lf lr" transform="translate(0 454.5)"><rect x="375" y="-2.45" width="5" height="4.9"/><line x1="381" y1="-4" x2="389" y2="-4"/><text x="390" y="-1">61</text></g>
<g id="leaf16" class="lf lr" transform="translate(0 459.4)"><rect x="375" y="-2.45" width="5" height="4.9"/><line x1="381" y1="-4" x2="389" y2="-4"/><text x="390" y="-1">16</text></g>
<g id="leaf13" class="lf lr" transform="translate(0 464.3)"><rect x="375" y="-2.45" width="5" height="4.9"/><line x1="381" y1="-4" x2="389" y2="-4"/><text x="390" y="-1">13</text></g>
<g id="leaf23" class="lf lr" transform="translate(0 469.2)"><rect x="375" y="-2.45" width="5" height="4.9"/><line x1="381" y1="-4" x2="389" y2="-4"/><text x="390" y="-1">23</text></g>
<g id="leaf8" class="lf lr" transform="translate(0 474.1)"><rect x="375" y="-2.45" width="5" height="4.9"/><line x1="381" y1="-4" x2="389" y2="-4"/><text x="390" y="-1">8</text></g>
<g id="leaf28" class="lf lr" transform="translate(0 479)"><rect x="375" y="-2.45" width="5" height="4.9"/><line x1="381" y1="-4" x2="389" y2="-4"/><text x="390" y="-1">28</text></g>
<g id="leaf59" class="lf lr" transform="translate(0 483.9)"><rect x="375" y="-2.45" width="5" height="4.9"/><line x1="381" y1="-4" x2="389" y2="-4"/><text x="390" y="-1">59</text></g>
<g id="leaf30" class="lf lr" transform="translate(0 488.8)"><rect x="375" y="-2.45" width="5" height="4.9"/><line x1="381" y1="-4" x2="389" y2="-4"/><text x="390" y="-1">30</text></g>
<g id="leaf41" class="lf lb" transform="translate(0 493.7)"><rect x="375" y="-2.45" width="5" height="4.9"/><line x1="381" y1="-4" x2="389" y2="-4"/><text x="390" y="-1">41</text></g>
<g id="leaf12" class="lf lb" transform="translate(0 498.5)"><rect x="375" y="-2.45" width="5" height="4.9"/><line x1="381" y1="-4" x2="389" y2="-4"/><text x="390" y="-1">12</text></g>
<g id="leaf48" class="lf lb" transform="translate(0 503.4)"><rect x="375" y="-2.45" width="5" height="4.9"/><line x1="381" y1="-4" x2="389" y2="-4"/><text x="390" y="-1">48</text></g>
<g id="leaf7" class="lf lb" transform="translate(0 508.3)"><rect x="375" y="-2.45" width="5" height="4.9"/><line x1="381" y1="-4" x2="389" y2="-4"/><text x="390" y="-1">7</text></g>
<g id="leaf1" class="lf lb" transform="translate(0 513.2)"><rect x="375" y="-2.45" width="5" height="4.9"/><line x1="381" y1="-4" x2="389" y2="-4"/><text x="390" y="-1">1</text></g>
</g>
</svg>
